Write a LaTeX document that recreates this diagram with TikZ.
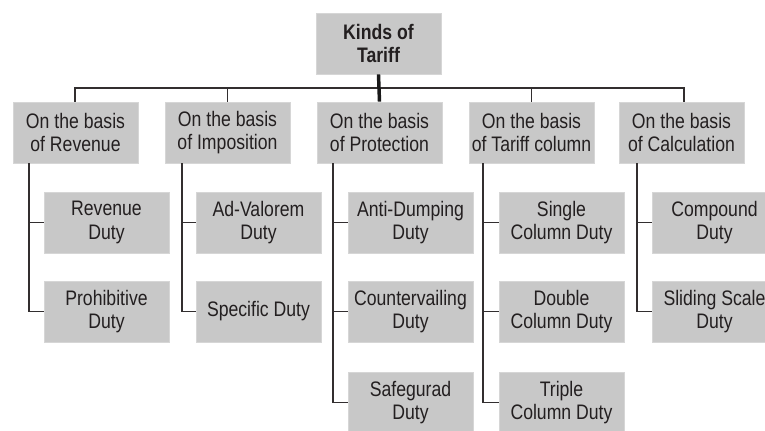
\documentclass[tikz,border=0pt]{standalone}
\usepackage{fontspec}
\setmainfont{Liberation Sans}[FakeStretch=0.84]
\begin{document}
\begin{tikzpicture}[x=0.75pt,y=-0.75pt,
  box/.style={draw=boxedge, fill=boxfill, line width=0.6pt, minimum width=93.75pt, minimum height=45.75pt,
    inner sep=0pt, align=center, text=inktext, font=\fontsize{15.75}{17.4}\selectfont},
  link/.style={draw=linkcol, line width=1.4pt},
]
\definecolor{boxfill}{RGB}{200,200,200}
\definecolor{boxedge}{RGB}{214,214,214}
\definecolor{inktext}{RGB}{35,31,32}
\definecolor{linkcol}{RGB}{50,46,47}
\useasboundingbox (0,0) rectangle (765,430);
\clip (0,0) rectangle (765,430);
\fill[white] (0,0) rectangle (765,430);

% root
\node[box, font=\bfseries\fontsize{15.75}{17.4}\selectfont] (root) at (378.5,43.5) {Kinds of\\Tariff};

% first level
\node[box] (rev)  at (75.5,132.5)  {On the basis\\of Revenue};
\node[box] (imp)  at (227.5,132.5) {On the basis\\of Imposition};
\node[box] (pro)  at (379.5,132.5) {On the basis\\of Protection};
\node[box] (col)  at (531.5,132.5) {On the basis\\of Tariff column};
\node[box] (calc) at (681.5,132.5) {On the basis\\of Calculation};

% second level
\node[box] (rev1) at (106.5,222.5) {Revenue\\Duty};
\node[box] (rev2) at (106.5,311.5) {Prohibitive\\Duty};
\node[box] (imp1) at (258.5,222.5) {Ad-Valorem\\Duty};
\node[box] (imp2) at (258.5,311.5) {Specific Duty};
\node[box] (pro1) at (410.5,222.5) {Anti-Dumping\\Duty};
\node[box] (pro2) at (410.5,311.5) {Countervailing\\Duty};
\node[box] (pro3) at (410.5,402.5) {Safegurad\\Duty};
\node[box] (col1) at (561.5,222.5) {Single\\Column Duty};
\node[box] (col2) at (561.5,311.5) {Double\\Column Duty};
\node[box] (col3) at (561.5,402.5) {Triple\\Column Duty};
\node[box] (calc1) at (714.5,222.5) {Compound\\Duty};
\node[box] (calc2) at (714.5,311.5) {Sliding Scale\\Duty};

% bus under the root
\coordinate (busL) at (75,88);
\coordinate (busR) at (684,88);
\draw[link] (rev.north -| busL) -- (busL) -- (busR) -- (calc.north -| busR);
\draw[link] (imp.north) -- (imp.north |- busL);
\draw[link] (col.north) -- (col.north |- busL);
\draw[link, line width=2.6pt, draw=black!90] (root.south) -- (pro.north);

% trunks and branches
\draw[link] ([xshift=12]rev.south west) |- (rev1.west);
\draw[link] ([xshift=12]rev.south west) |- (rev2.west);
\draw[link] ([xshift=13]imp.south west) |- (imp1.west);
\draw[link] ([xshift=13]imp.south west) |- (imp2.west);
\draw[link] ([xshift=12]pro.south west) |- (pro1.west);
\draw[link] ([xshift=12]pro.south west) |- (pro2.west);
\draw[link] ([xshift=12]pro.south west) |- (pro3.west);
\draw[link] ([xshift=11]col.south west) |- (col1.west);
\draw[link] ([xshift=11]col.south west) |- (col2.west);
\draw[link] ([xshift=11]col.south west) |- (col3.west);
\draw[link] ([xshift=14]calc.south west) |- (calc1.west);
\draw[link] ([xshift=14]calc.south west) |- (calc2.west);
\end{tikzpicture}
\end{document}
